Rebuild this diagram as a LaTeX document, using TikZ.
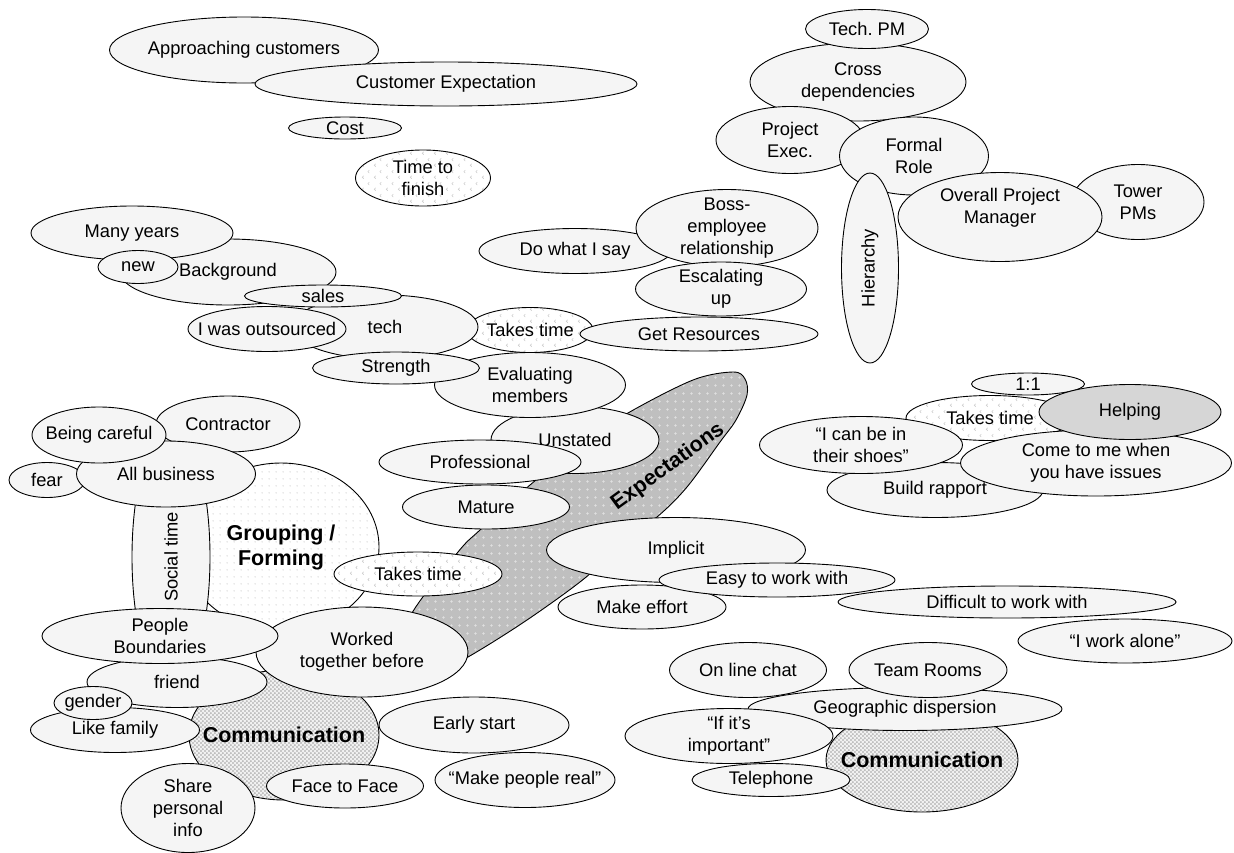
\documentclass[tikz,border=0pt]{standalone}
\usepackage{fontspec}
\setmainfont{Liberation Sans}
\usetikzlibrary{shapes.geometric,patterns}

% fill textures
\pgfdeclarepatternformonly{chevrons}{\pgfqpoint{0pt}{0pt}}{\pgfqpoint{12pt}{12pt}}{\pgfqpoint{12pt}{12pt}}{%
  \pgfsetlinewidth{0.6pt}%
  \pgfpathmoveto{\pgfqpoint{4pt}{1.5pt}}\pgfpathlineto{\pgfqpoint{2.5pt}{3pt}}\pgfpathlineto{\pgfqpoint{4pt}{4.5pt}}%
  \pgfpathmoveto{\pgfqpoint{10pt}{7.5pt}}\pgfpathlineto{\pgfqpoint{8.5pt}{9pt}}\pgfpathlineto{\pgfqpoint{10pt}{10.5pt}}%
  \pgfusepath{stroke}}
\pgfdeclarepatternformonly{sparsedots}{\pgfqpoint{0pt}{0pt}}{\pgfqpoint{7pt}{7pt}}{\pgfqpoint{7pt}{7pt}}{%
  \pgfpathcircle{\pgfqpoint{3.5pt}{3.5pt}}{0.7pt}\pgfusepath{fill}}
\pgfdeclarepatternformonly{densedots}{\pgfqpoint{0pt}{0pt}}{\pgfqpoint{4.4pt}{4.4pt}}{\pgfqpoint{4.4pt}{4.4pt}}{%
  \pgfpathcircle{\pgfqpoint{1.1pt}{1.1pt}}{1.25pt}\pgfpathcircle{\pgfqpoint{3.3pt}{3.3pt}}{1.25pt}\pgfusepath{fill}}
\pgfdeclarepatternformonly{plusses}{\pgfqpoint{0pt}{0pt}}{\pgfqpoint{8pt}{8pt}}{\pgfqpoint{8pt}{8pt}}{%
  \pgfsetlinewidth{0.7pt}%
  \pgfpathmoveto{\pgfqpoint{2.5pt}{4pt}}\pgfpathlineto{\pgfqpoint{5.5pt}{4pt}}%
  \pgfpathmoveto{\pgfqpoint{4pt}{2.5pt}}\pgfpathlineto{\pgfqpoint{4pt}{5.5pt}}%
  \pgfusepath{stroke}}

\definecolor{bubfill}{HTML}{F5F5F5}
\definecolor{helpfill}{HTML}{D6D6D6}
\newcommand{\bubtext}{\fontsize{18.3}{22}\selectfont}
\newcommand{\boldlabel}{\fontsize{21.5}{25}\selectfont\bfseries}

\tikzset{
  bub/.style={ellipse, draw=black, line width=0.9pt, fill=bubfill,
    inner sep=-20pt, align=center, font=\bubtext},
  sz/.style 2 args={minimum width=#1pt, minimum height=#2pt},
  chev/.style={preaction={fill=white}, pattern=chevrons, pattern color=gray!40},
  sparse/.style={preaction={fill=white}, pattern=sparsedots, pattern color=gray!45},
  commdots/.style={preaction={fill=gray!10}, pattern=densedots, pattern color=gray!55},
}

\begin{document}
\begin{tikzpicture}[x=1pt, y=-1pt]
\useasboundingbox (0,0) rectangle (1234,852);
\fill[white] (0,0) rectangle (1234,852);

% customers
\node[bub, sz={269}{66}] (approach) at (244,50) {Approaching customers};
\node[bub, sz={382}{44}] (custexp) at (446,84) {Customer Expectation};
\node[bub, sz={113}{22}] (cost) at (345,128) {Cost};
\node[bub, chev, sz={135}{56}] (finish) at (423,178) {Time to\\finish};

% background
\node[bub, sz={216}{66}] (background) at (228,272) {Background};
\node[bub, sz={202}{54}] (manyyears) at (132,233) {Many years};
\node[bub, sz={80}{33}] (new) at (138,267) {new};
\node[bub, chev, sz={126}{45}] (ttA) at (530,330) {Takes time};
\node[bub, sz={186}{64}] (tech) at (385,327) {tech};
\node[bub, sz={157}{22}] (sales) at (323,296) {sales};
\node[bub, sz={158}{45}] (outsourced) at (267,329) {I was outsourced};

% boss relationship
\node[bub, sz={192}{45}] (dowhat) at (575,251) {Do what I say};
\node[bub, sz={182}{77}] (boss) at (727,228) {Boss-\\employee\\relationship};
\node[bub, sz={171}{54}] (escalate) at (721,289) {Escalating\\up};
\node[bub, sz={238}{34}] (resources) at (699,334) {Get Resources};

% expectations
\path[draw=black, line width=0.9pt, preaction={fill=gray!50}, pattern=plusses, pattern color=gray!22]
  plot[smooth cycle, tension=0.55] coordinates {
    (733,372) (745,379) (747,395) (736,420) (720,442) (687,487) (657,517)
    (613,550) (585,578) (527,620) (468,657) (430,675) (405,645) (412,613)
    (458,552) (480,530) (530,485) (580,445) (628,413) (693,380)};
\node[bub, sz={168}{67}] (unstated) at (575,440) {Unstated};
\node[bub, sz={191}{65}] (evaluating) at (530,385) {Evaluating\\members};
\node[bub, sz={167}{32}] (strength) at (396,368) {Strength};
\node[bub, sz={202}{44}] (professional) at (480,462) {Professional};
\node[bub, sz={167}{44}] (mature) at (486,507) {Mature};
\node[rotate=36, font=\boldlabel] (exptext) at (668,467) {Expectations};

% grouping / forming
\node[bub, sparse, sz={196}{168}, font=\boldlabel] (grouping) at (281,547) {Grouping /\\Forming};
\node[bub, sz={260}{78}, rotate=90] (social) at (171,557) {Social time};
\node[bub, sz={144}{56}] (contractor) at (228,424) {Contractor};
\node[bub, sz={76}{35}] (fear) at (47,480) {fear};
\node[bub, sz={179}{66}] (allbiz) at (166,474) {All business};
\node[bub, sz={134}{56}] (careful) at (99,435) {Being careful};
\node[bub, chev, sz={168}{44}] (ttB) at (418,574) {Takes time};

% communication (left)
\node[bub, commdots, sz={190}{130}, font=\boldlabel] (commA) at (284,735) {Communication};
\node[bub, sz={180}{51}] (friend) at (177,682) {friend};
\node[bub, sz={212}{90}] (worked) at (362,652) {Worked\\together before};
\node[bub, sz={236}{55}] (people) at (160,636) {People\\Boundaries};
\node[bub, sz={169}{45}] (family) at (115,730) {Like family};
\node[bub, sz={78}{33}] (gender) at (93,703) {gender};
\node[bub, sz={134}{89}] (share) at (188,808) {Share\\personal\\info};
\node[bub, sz={157}{44}] (face) at (345,786) {Face to Face};
\node[bub, sz={190}{56}] (early) at (474,725) {Early start};
\node[bub, sz={180}{55}] (real) at (525,780) {“Make people real”};

% helping
\node[bub, chev, sz={168}{45}] (ttC) at (990,418) {Takes time};
\node[bub, sz={113}{22}] (oneone) at (1028,384) {1:1};
\node[bub, sz={216}{55}] (rapport) at (935,490) {Build rapport};
\node[bub, sz={203}{57}] (shoes) at (861,445) {“I can be in\\their shoes”};
\node[bub, sz={271}{66}] (comeme) at (1096,463) {Come to me when\\you have issues};
\node[bub, fill=helpfill, sz={182}{55}] (helping) at (1130,412) {Helping};

% implicit
\node[bub, sz={259}{65}] (implicit) at (676,550) {Implicit};
\node[bub, sz={168}{44}] (effort) at (642,607) {Make effort};
\node[bub, sz={236}{34}] (easy) at (777,580) {Easy to work with};
\node[bub, sz={338}{32}] (difficult) at (1007,602) {Difficult to work with};
\node[bub, sz={214}{44}] (alone) at (1125,641) {“I work alone”};

% communication (right)
\node[bub, commdots, sz={192}{104}, font=\boldlabel] (commB) at (922,760) {Communication};
\node[bub, sz={314}{43}] (geo) at (905,709) {Geographic dispersion};
\node[bub, sz={157}{55}] (chat) at (748,670) {On line chat};
\node[bub, sz={158}{55}] (rooms) at (928,670) {Team Rooms};
\node[bub, sz={208}{55}] (important) at (729,736) {“If it’s\\important”};
\node[bub, sz={158}{33}] (phone) at (771,780) {Telephone};

% formal role
\node[bub, sz={216}{78}] (cross) at (858,82) {Cross\\dependencies};
\node[bub, sz={123}{39}] (techpm) at (867,29) {Tech.\ PM};
\node[bub, sz={148}{67}] (projexec) at (790,140) {Project\\Exec.};
\node[bub, sz={149}{78}] (formal) at (914,156) {Formal\\Role};
\node[bub, sz={190}{57}, rotate=90] (hierarchy) at (870,268) {Hierarchy};
\node[bub, sz={132}{75}] (tower) at (1138,202) {Tower\\PMs};
\node[bub, sz={204}{89}] (overall) at (1000,217)
  {\raisebox{5pt}[0pt][0pt]{\begin{tabular}{@{}c@{}}Overall Project\\Manager\end{tabular}}};
\end{tikzpicture}
\end{document}
